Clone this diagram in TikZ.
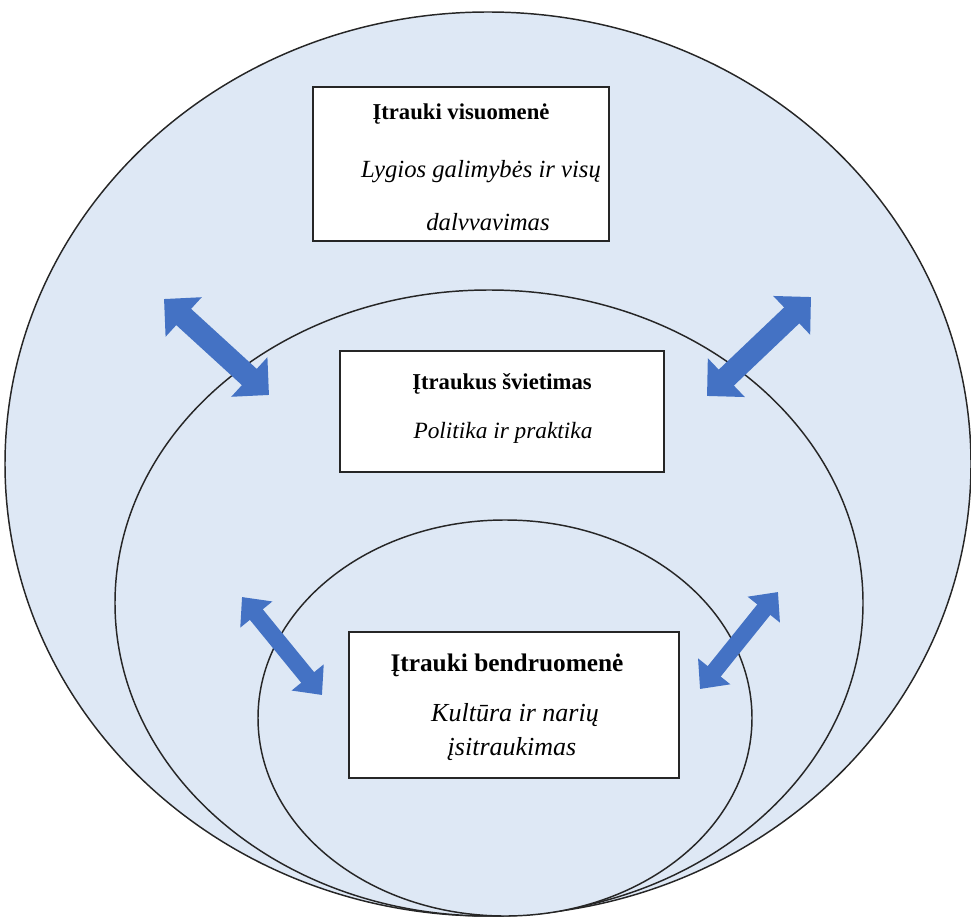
\documentclass[tikz,border=0pt]{standalone}
\usepackage{fontspec}
\setmainfont{Liberation Serif}
\usetikzlibrary{arrows.meta}
\definecolor{fillblue}{HTML}{DEE8F5}
\definecolor{arrblue}{HTML}{4472C4}
\begin{document}
\begin{tikzpicture}[x=0.75pt,y=-0.75pt,
  ring/.style={draw=black!85, line width=1.1pt, fill=fillblue},
  box/.style={draw=black!85, line width=1.1pt, fill=white, inner sep=0pt},
  ttl/.style={font=\fontsize{17}{20}\selectfont\bfseries, inner sep=0pt},
  itl/.style={font=\fontsize{17.5}{20}\selectfont\itshape, inner sep=0pt},
  ttlb/.style={font=\fontsize{19}{22}\selectfont\bfseries, inner sep=0pt},
  itlb/.style={font=\fontsize{19.5}{22}\selectfont\itshape, inner sep=0pt},
  bigarrow/.style={line width=16.5pt, arrblue,
    {Triangle[length=20pt,width=39pt]}-{Triangle[length=20pt,width=39pt]}},
  smallarrow/.style={line width=12.5pt, arrblue,
    {Triangle[length=17pt,width=30pt]}-{Triangle[length=17pt,width=30pt]}}]
\useasboundingbox (0,0) rectangle (971,920);
% ellipses
\draw[ring] (488,464) ellipse [x radius=483, y radius=452];
\draw[ring] (489,603) ellipse [x radius=374, y radius=313];
\draw[ring] (505,718) ellipse [x radius=247, y radius=198];
% boxes
\node[box, minimum width=222pt, minimum height=115.5pt] (b1) at (461,164) {};
\node[box, minimum width=243pt, minimum height=90.75pt] (b2) at (502,411.5) {};
\node[box, minimum width=247.5pt, minimum height=109.5pt] (b3) at (514,705) {};
\node[ttl] (t1) at (461,114) {Įtrauki visuomenė};
\node[itl, font=\fontsize{18.5}{20}\selectfont\itshape] (i1a) at (481,172) {Lygios galimybės ir visų};
\node[itl, font=\fontsize{18.5}{20}\selectfont\itshape] (i1b) at (488,222) {dalvvavimas};
\node[ttl] (t2) at (502,384) {Įtraukus švietimas};
\node[itl] (i2) at (503,433) {Politika ir praktika};
\node[ttlb] (t3) at (507,665) {Įtrauki bendruomenė};
\node[itlb] (i3a) at (515,715) {Kultūra ir narių};
\node[itlb] (i3b) at (512,749) {įsitraukimas};
% arrows
\coordinate (a1s) at (164,299); \coordinate (a1e) at (269,395);
\coordinate (a2s) at (811,297); \coordinate (a2e) at (707,396);
\coordinate (a3s) at (242,597); \coordinate (a3e) at (322,695);
\coordinate (a4s) at (778,592); \coordinate (a4e) at (700,689);
\draw[bigarrow] (a1s) -- (a1e);
\draw[bigarrow] (a2s) -- (a2e);
\draw[smallarrow] (a3s) -- (a3e);
\draw[smallarrow] (a4s) -- (a4e);
\end{tikzpicture}
\end{document}
